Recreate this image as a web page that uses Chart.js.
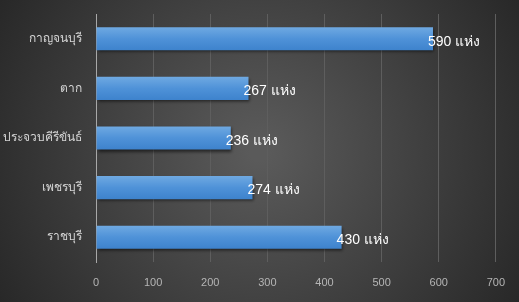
<!DOCTYPE html>
<html>
<head>
<meta charset="utf-8">
<script src="https://cdn.jsdelivr.net/npm/chart.js@4"></script>
<style>
  html, body { margin: 0; padding: 0; background: #333; }
  #chart { display: block; }
</style>
</head>
<body>
<canvas id="chart" width="519" height="302"></canvas>
<script>
// ข้อมูลของกราฟ
const provinces = ['กาญจนบุรี', 'ตาก', 'ประจวบคีรีขันธ์', 'เพชรบุรี', 'ราชบุรี'];
const counts = [590, 267, 236, 274, 430];
const unitLabel = 'แห่ง';
const xTicks = [0, 100, 200, 300, 400, 500, 600, 700];

const thaiFont = 'Tahoma, "DejaVu Sans", "Noto Sans", sans-serif';

// พื้นหลังไล่สีแบบวงกลม
const backgroundPlugin = {
    id: 'bg',
    beforeDraw(chart) {
        const ctx = chart.ctx;
        const w = chart.width, h = chart.height;
        const g = ctx.createRadialGradient(w * 0.5, h * 0.5, 10, w * 0.5, h * 0.5, w * 0.6);
        g.addColorStop(0, '#5a5a5a');
        g.addColorStop(1, '#262626');
        ctx.save();
        ctx.fillStyle = g;
        ctx.fillRect(0, 0, w, h);
        ctx.restore();
    }
};

// เงาใต้แท่ง
const shadowPlugin = {
    id: 'barShadow',
    beforeDatasetsDraw(chart) {
        const ctx = chart.ctx;
        ctx.save();
        ctx.shadowColor = 'rgba(0,0,0,0.55)';
        ctx.shadowBlur = 3;
        ctx.shadowOffsetX = 1;
        ctx.shadowOffsetY = 2;
    },
    afterDatasetsDraw(chart) {
        chart.ctx.restore();
    }
};

// ป้ายค่าที่ปลายแท่ง
const valueLabelPlugin = {
    id: 'valueLabels',
    afterDatasetsDraw(chart) {
        const ctx = chart.ctx;
        const meta = chart.getDatasetMeta(0);
        ctx.save();
        ctx.fillStyle = '#ffffff';
        ctx.font = '14px "Liberation Sans", Arial, sans-serif';
        ctx.textAlign = 'left';
        ctx.textBaseline = 'middle';
        meta.data.forEach((bar, i) => {
            ctx.fillText(counts[i] + ' ' + unitLabel, bar.x - 5, bar.y + 3);
        });
        ctx.restore();
    }
};

function barGradient(context) {
    const chart = context.chart;
    const yScale = chart.scales.y;
    if (!yScale || context.dataIndex === undefined) return '#4f92d8';
    const cy = yScale.getPixelForValue(context.dataIndex);
    if (!isFinite(cy)) return '#4f92d8';
    const g = chart.ctx.createLinearGradient(0, cy - 12, 0, cy + 12);
    g.addColorStop(0, '#70aae2');
    g.addColorStop(0.5, '#4f92d8');
    g.addColorStop(1, '#3d82cc');
    return g;
}

new Chart(document.getElementById('chart'), {
    type: 'bar',
    data: {
        labels: provinces,
        datasets: [{
            data: counts,
            backgroundColor: barGradient,
            borderWidth: 0,
            barPercentage: 0.465,
            categoryPercentage: 1
        }]
    },
    options: {
        indexAxis: 'y',
        responsive: false,
        animation: false,
        layout: { padding: { top: 14, right: 23, left: 0, bottom: 0 } },
        plugins: {
            legend: { display: false },
            tooltip: { enabled: false }
        },
        scales: {
            x: {
                min: 0,
                max: 700,
                afterBuildTicks(scale) {
                    scale.ticks = xTicks.map(v => ({ value: v }));
                },
                afterFit(scale) { scale.height = 40; },
                grid: { color: '#5e5e5e', drawTicks: false, lineWidth: 1 },
                border: { display: false },
                ticks: {
                    color: '#b5b5b5',
                    font: { family: 'Arial, "Liberation Sans", sans-serif', size: 11 },
                    padding: 14
                }
            },
            y: {
                afterFit(scale) {
                    scale.width = 96;
                    scale.paddingTop = 0;
                    scale.paddingBottom = 0;
                },
                grid: { display: false, drawTicks: false },
                border: { display: true, color: '#a8a8a8', width: 1 },
                ticks: {
                    color: '#d6d6d6',
                    font: { family: thaiFont, size: 12 },
                    padding: 14
                }
            }
        }
    },
    plugins: [backgroundPlugin, shadowPlugin, valueLabelPlugin]
});
</script>
</body>
</html>
